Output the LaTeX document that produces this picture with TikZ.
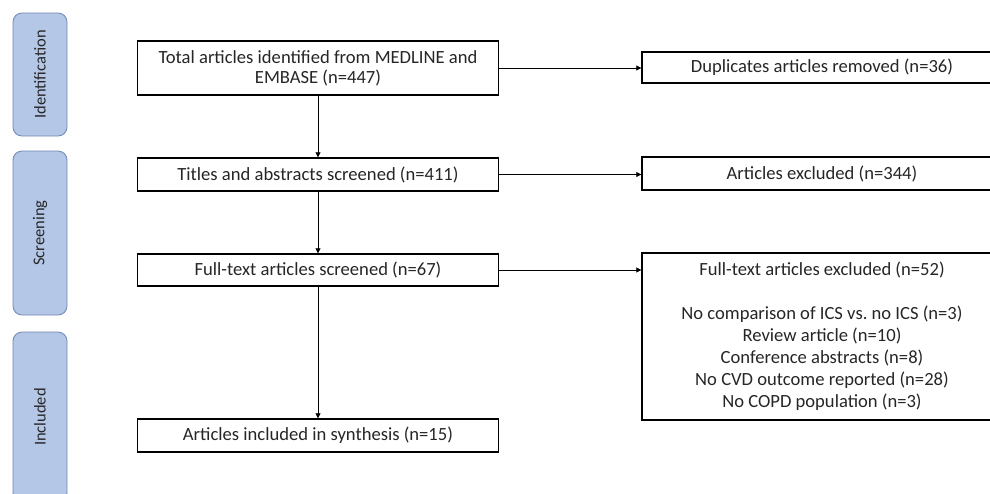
\documentclass[tikz,border=0pt]{standalone}
\usepackage{fontspec}
\setmainfont{Carlito}
\usetikzlibrary{arrows.meta}
\definecolor{stagefill}{HTML}{B4C7E7}
\definecolor{stagedraw}{HTML}{6E86B3}
\definecolor{txt}{HTML}{262626}
\begin{document}
\begin{tikzpicture}[x=1pt,y=-1pt,
  flowbox/.style={draw=black,line width=1.4pt,rectangle,minimum width=360.5pt,inner sep=0pt,align=center,text=txt,font=\fontsize{18.6}{20}\selectfont},
  exbox/.style={draw=black,line width=1.4pt,rectangle,minimum width=360pt,inner sep=0pt,align=center,text=txt,font=\fontsize{18.6}{22}\selectfont},
  stagebox/.style={draw=stagedraw,fill=stagefill,line width=0.8pt,rounded corners=9pt,minimum width=54pt,inner sep=0pt},
  stagetext/.style={rotate=90,text=txt,font=\fontsize{16.5}{18}\selectfont},
  conn/.style={line width=0.8pt,-{Triangle[length=5pt,width=5pt]}}]
\useasboundingbox (0,0) rectangle (990,493);
\clip (0,0) rectangle (990,493);
% stage boxes
\node[stagebox,minimum height=123pt] (s1) at (40,74.5) {};
\node[stagetext] (s1t) at (s1.center) {Identification};
\node[stagebox,minimum height=164pt] (s2) at (40,233) {};
\node[stagetext] (s2t) at (s2.center) {Screening};
\node[stagebox,minimum height=170pt] (s3) at (40,417) {};
\node[stagetext] (s3t) at (s3.center) {Included};
% main flow
\node[flowbox,minimum height=54pt] (b1) at (318,68) {Total articles identified from MEDLINE and\\EMBASE (n=447)};
\node[flowbox,minimum height=33pt] (b2) at (318,174.5) {Titles and abstracts screened (n=411)};
\node[flowbox,minimum height=32pt] (b3) at (318,270) {Full-text articles screened (n=67)};
\node[flowbox,minimum height=33pt] (b4) at (318,435.5) {Articles included in synthesis (n=15)};
% exclusion boxes
\node[exbox,minimum height=31pt] (e1) at (822,67.5) {Duplicates articles removed (n=36)};
\node[exbox,minimum height=33pt] (e2) at (822,173.5) {Articles excluded (n=344)};
\node[exbox,minimum height=167pt] (e3) at (822,336.5) {Full-text articles excluded (n=52)\\[22pt]No comparison of ICS vs.\ no ICS (n=3)\\Review article (n=10)\\Conference abstracts (n=8)\\No CVD outcome reported (n=28)\\No COPD population (n=3)};
% connectors
\draw[conn] (b1.south) -- (b2.north);
\draw[conn] (b2.south) -- (b3.north);
\draw[conn] (b3.south) -- (b4.north);
\draw[conn] (b1.east) -- (b1.east -| e1.west);
\draw[conn] (b2.east) -- (b2.east -| e2.west);
\draw[conn] (b3.east) -- (b3.east -| e3.west);
\end{tikzpicture}
\end{document}
